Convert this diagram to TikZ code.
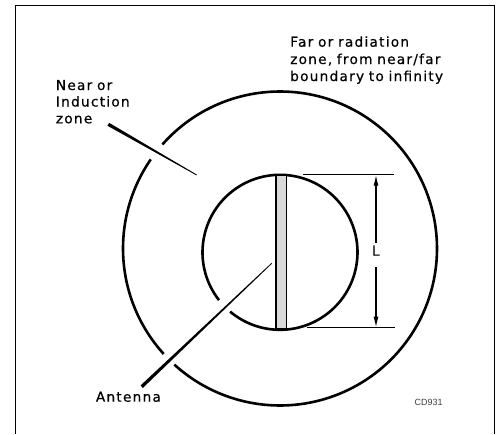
\documentclass[tikz,border=0pt]{standalone}
\usepackage{fontspec}
\setmainfont{DejaVu Sans}[LetterSpace=9,WordSpace=0.85,FakeBold=0.5]
\newfontfamily\plainsans{Liberation Sans}
\usetikzlibrary{arrows.meta,calc}
\newcommand\taperleader[4]{\fill ($(#1)!#3!90:(#2)$) -- ($(#2)!#4!-90:(#1)$) -- ($(#2)!#4!90:(#1)$) -- ($(#1)!#3!-90:(#2)$) -- cycle;}
\begin{document}
\begin{tikzpicture}[x=1pt,y=-1pt,
  lbl/.style={anchor=base west,inner sep=0,font=\fontsize{13.7}{17}\selectfont},
  ring/.style={line width=2.6pt},
  frameline/.style={line width=1.3pt},
  dimline/.style={line width=1.3pt},
  tip/.style={-{Latex[length=11pt,width=5pt]}}]
\useasboundingbox (0,0) rectangle (498,434);
\fill[white] (0,0) rectangle (498,434);
\draw[frameline] (15.5,434) -- (15.5,5.7) -- (494.7,5.7) -- (494.7,434);
% zones
\coordinate (oc) at (280,248.5);
\coordinate (ic) at (280,252.3);
\draw[ring] (oc) ++(137.8:157) arc[start angle=137.8,end angle=214.6,radius=157];
\draw[ring] (oc) ++(221.5:157) arc[start angle=221.5,end angle=492.3,radius=157];
\draw[ring] (ic) ++(141.9:77.5) arc[start angle=141.9,end angle=490.1,radius=77.5];
% antenna
\node[draw,fill=gray!30,line width=1.2pt,minimum width=10.7pt,minimum height=153.3pt,inner sep=0] (ant) at (281.3,252.3) {};
% leaders
\coordinate (nl1) at (108.3,124.3);
\coordinate (nl2) at (196.7,175);
\taperleader{nl1}{nl2}{1.7pt}{0.4pt}
\coordinate (al1) at (141.7,386.7);
\coordinate (al2) at (271.7,263.3);
\taperleader{al1}{al2}{1.7pt}{0.4pt}
% dimension
\coordinate (dt1) at (303,174.7);
\coordinate (dt2) at (394,174.7);
\coordinate (db1) at (306.7,327.7);
\coordinate (db2) at (395.3,327.7);
\draw[dimline] (dt1) -- (dt2);
\draw[dimline] (db1) -- (db2);
\coordinate (at) at (376,174.7);
\coordinate (ab) at (376,327.7);
\coordinate (gt) at (376,243);
\coordinate (gb) at (376,267);
\node[lbl] (Lbl) at (371.8,255.7) {L};
\draw[dimline,tip] (gt) -- (at);
\draw[dimline,tip] (gb) -- (ab);
% labels
\node[lbl] (far1) at (290,46.7) {Far or radiation};
\node[lbl] (far2) at (290,64) {zone, from near/far};
\node[lbl] (far3) at (290,81) {boundary to infinity};
\node[lbl] (near1) at (55.7,90) {Near or};
\node[lbl] (near2) at (55.7,106.5) {Induction};
\node[lbl] (near3) at (55.7,123.3) {zone};
\node[lbl] (antlbl) at (95.7,401.7) {Antenna};
\node[anchor=base west,inner sep=0,font=\plainsans\fontsize{9}{10}\selectfont,text=black!75] (code) at (414.3,405) {CD931};
\end{tikzpicture}
\end{document}
